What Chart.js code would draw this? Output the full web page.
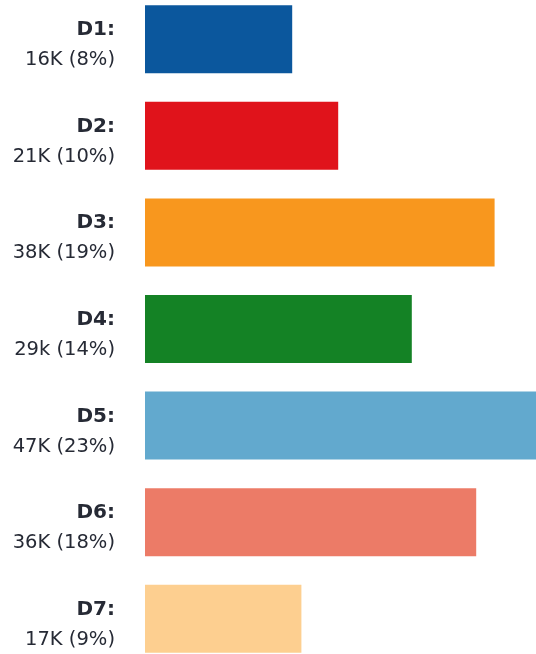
<!DOCTYPE html>
<html>
<head>
<meta charset="utf-8">
<script src="https://cdn.jsdelivr.net/npm/chart.js@4/dist/chart.umd.min.js"></script>
<style>
	html, body { margin: 0; padding: 0; background: #fff; overflow: hidden; }
	#wrap { position: relative; width: 536px; height: 654px; overflow: hidden; }
	#districtChart { position: absolute; left: 0; top: -9px; }
</style>
</head>
<body>
<div id="wrap">
	<canvas id="districtChart" width="536" height="676"></canvas>
</div>
<script>
const districts = ["D1:", "D2:", "D3:", "D4:", "D5:", "D6:", "D7:"];
const subLabels = ["16K (8%)", "21K (10%)", "38K (19%)", "29k (14%)", "47K (23%)", "36K (18%)", "17K (9%)"];
const counts = [16, 21, 38, 29, 47, 36, 17];
const barColors = ["#0b579d", "#e0131b", "#f8971e", "#148225", "#62a9ce", "#ec7b67", "#fdcf90"];

const districtCanvas = document.getElementById("districtChart");

const sideLabels = {
	id: "sideLabels",
	afterDraw(chart) {
		const ctx = chart.ctx;
		const yScale = chart.scales.y;
		ctx.save();
		ctx.textAlign = "right";
		ctx.textBaseline = "alphabetic";
		ctx.fillStyle = "#262a35";
		districts.forEach((d, i) => {
			const y = yScale.getPixelForTick(i);
			ctx.font = "bold 20px 'DejaVu Sans'";
			ctx.fillText(d, 115, y - 4);
			ctx.font = "19.5px 'DejaVu Sans'";
			ctx.fillText(subLabels[i], 115, y + 26);
		});
		ctx.restore();
	},
};

new Chart(districtCanvas, {
	type: "bar",
	data: {
		labels: districts,
		datasets: [
			{
				data: counts,
				backgroundColor: barColors,
				borderWidth: 0,
				barPercentage: 0.704,
				categoryPercentage: 1,
			},
		],
	},
	options: {
		indexAxis: "y",
		responsive: false,
		animation: {
			duration: 0,
		},
		layout: {
			padding: 0,
		},
		scales: {
			x: {
				display: false,
				min: 0,
				max: 42.5,
			},
			y: {
				grid: { display: false },
				border: { display: false },
				ticks: { display: false },
				afterFit(scale) {
					scale.width = 145;
				},
			},
		},
		plugins: {
			legend: { display: false },
			tooltip: { enabled: false },
		},
	},
	plugins: [sideLabels],
});
</script>
</body>
</html>
